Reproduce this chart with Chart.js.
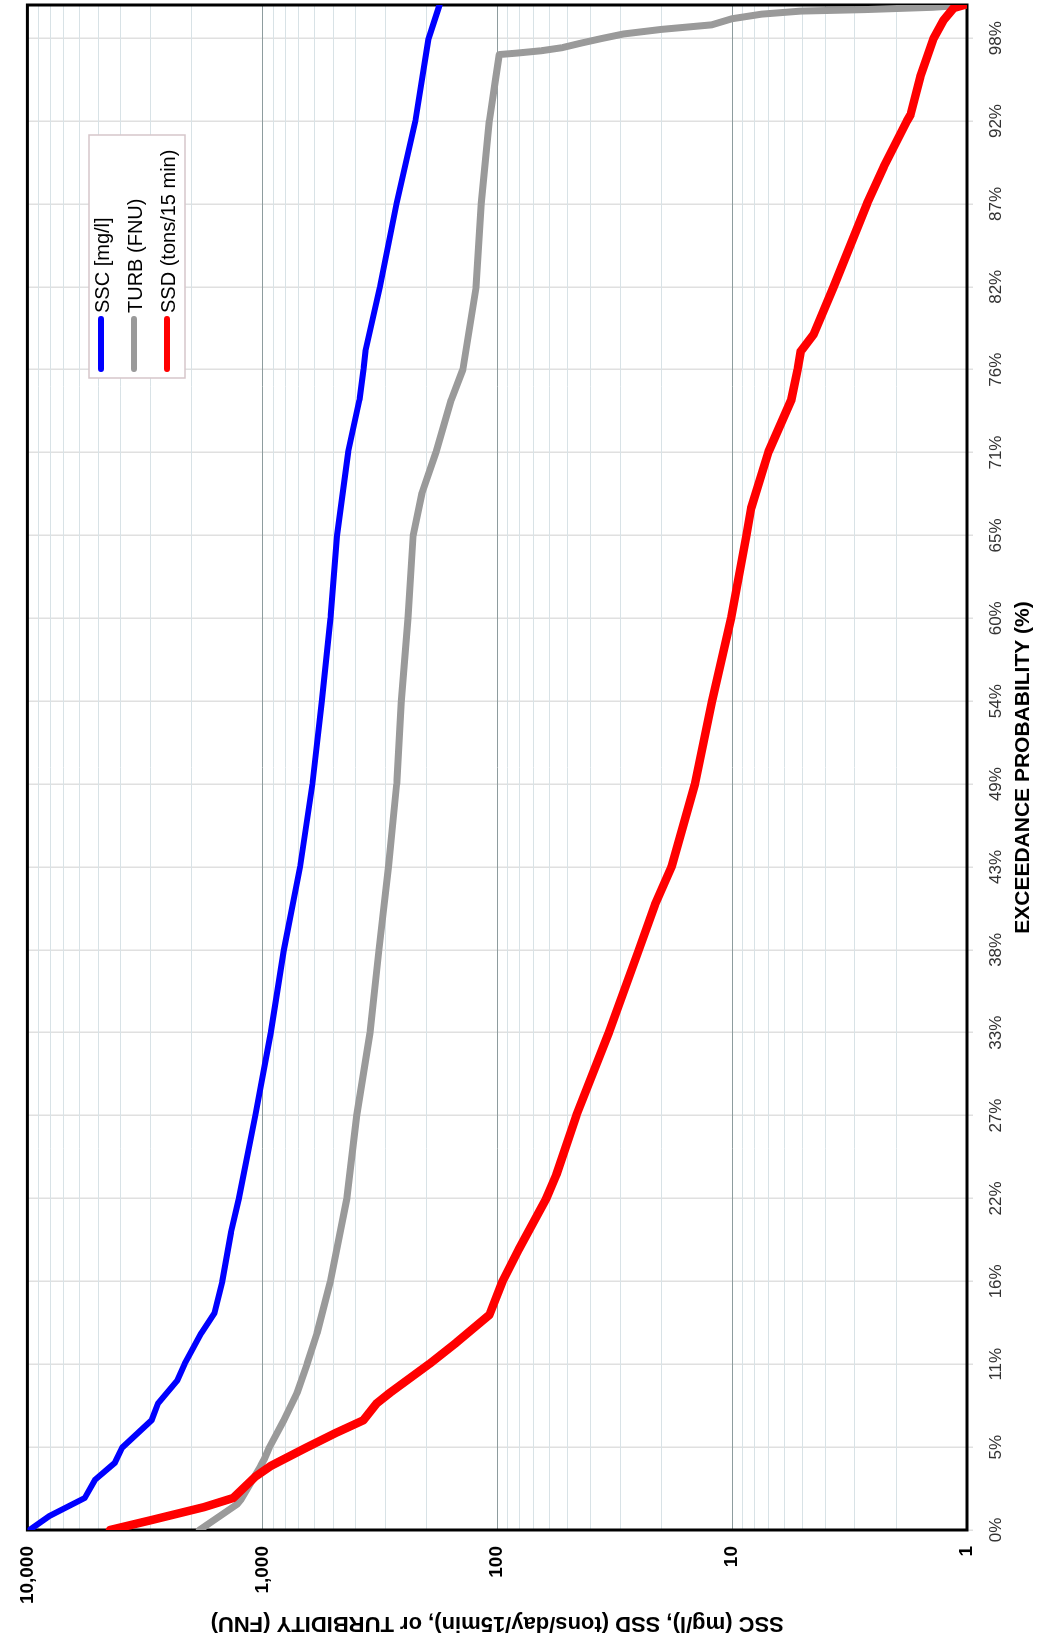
<!DOCTYPE html>
<html>
<head>
<meta charset="utf-8">
<script src="https://cdn.jsdelivr.net/npm/chart.js@4.4.0/dist/chart.umd.min.js"></script>
<style>
  html, body { margin: 0; padding: 0; background: #fff; overflow: hidden; }
  #page { position: relative; width: 1044px; height: 1648px; overflow: hidden; background: #fff; }
  /* the chart is laid out landscape, then turned a quarter turn counter-clockwise */
  #turned { position: absolute; left: 0; top: 0; width: 1648px; height: 1044px;
    transform-origin: 0 0; transform: translateY(1648px) rotate(-90deg); }
</style>
</head>
<body>
<div id="page">
  <div id="turned"><canvas id="durationChart" width="1648" height="1044"></canvas></div>
</div>
<script>
const FONT = "'Liberation Sans', Arial, sans-serif";

// exceedance probability (%) and value pairs
const sscPct = [0, 0.9, 2.1, 3.3, 4.4, 5.4, 7.2, 8.3, 9.8, 10.9, 12.9, 14.2, 16.3, 19.5, 21.7, 27.2, 32.6, 38.0, 43.5, 48.9, 54.3, 59.8, 65.2, 70.7, 74.1, 76.1, 77.3, 81.5, 87.0, 92.4, 97.8, 100];
const sscVal = [9800, 8100, 5700, 5150, 4250, 3950, 2960, 2780, 2300, 2140, 1820, 1600, 1480, 1360, 1260, 1070, 920, 810, 690, 612, 558, 513, 481, 431, 386, 371, 364, 316, 268, 223, 196, 176];

const turbPct = [0, 1.7, 2.0, 4.2, 4.6, 5.4, 7.2, 9.0, 10.9, 12.9, 16.3, 21.7, 27.2, 32.6, 38.0, 43.5, 48.9, 54.3, 59.8, 65.2, 68.0, 70.7, 74.1, 76.1, 81.5, 87.0, 92.4, 95.0, 96.75, 96.85, 97.0, 97.2, 97.5, 97.8, 98.1, 98.4, 98.7, 99.1, 99.4, 99.6, 99.7, 99.85, 100];
const turbVal = [1850, 1277, 1233, 1016, 984, 934, 809, 711, 644, 585, 513, 437, 396, 348, 319, 290, 268, 256, 240, 228, 209, 182, 157, 140, 123, 117, 108, 102, 98, 82, 65, 53, 44, 36, 29, 20, 12.2, 10, 7.5, 5.1, 2.7, 1.4, 1.0];

const ssdPct = [0, 0.66, 1.5, 2.1, 3.5, 4.2, 5.4, 6.4, 7.2, 8.3, 9.0, 10.9, 12.3, 14.1, 16.3, 18.4, 21.7, 23.3, 27.2, 32.6, 38.0, 41.0, 43.5, 48.9, 54.3, 59.8, 65.2, 67.0, 70.7, 74.1, 76.1, 77.3, 78.4, 81.5, 87.0, 89.4, 92.4, 92.8, 95.3, 97.8, 99.0, 99.8, 100];
const ssdVal = [4450, 2950, 1770, 1330, 1070, 921, 650, 481, 371, 326, 286, 194, 149, 108, 95, 81, 62, 56, 46, 33.5, 25, 21.3, 18.1, 14.4, 12.2, 10.1, 8.7, 8.3, 7.0, 5.6, 5.26, 5.1, 4.5, 3.7, 2.66, 2.26, 1.8, 1.74, 1.58, 1.39, 1.26, 1.14, 1.03];

const seriesLabels = ["SSC [mg/l]", "TURB (FNU)", "SSD (tons/15 min)"];
const xTickLabels = ["0%", "5%", "11%", "16%", "22%", "27%", "33%", "38%", "43%", "49%", "54%", "60%", "65%", "71%", "76%", "82%", "87%", "92%", "98%"];
const yDecades = [1, 10, 100, 1000, 10000];
const yTickLabels = ["1", "10", "100", "1,000", "10,000"];

const xStep = 100 / 18.4; // spacing of the probability ticks

const toPoints = (pct, val) => pct.map((p, i) => ({ x: p, y: val[i] }));

// black frame round the plot area
const plotFrame = {
  id: "plotFrame",
  beforeDatasetsDraw(chart) {
    const { ctx, chartArea: a } = chart;
    ctx.save();
    ctx.strokeStyle = "#000";
    ctx.lineWidth = 3;
    ctx.strokeRect(a.left, a.top, a.right - a.left, a.bottom - a.top);
    ctx.restore();
  }
};

// boxed legend that sits inside the plot
const boxLegend = {
  id: "boxLegend",
  afterDraw(chart) {
    const ctx = chart.ctx;
    const x0 = 1270, y0 = 89, w = 243, h = 96;
    ctx.save();
    ctx.fillStyle = "#fff";
    ctx.fillRect(x0, y0, w, h);
    ctx.strokeStyle = "#d6c6ca";
    ctx.lineWidth = 1.5;
    ctx.strokeRect(x0, y0, w, h);
    chart.data.datasets.forEach((ds, i) => {
      const y = 101 + i * 33;
      ctx.strokeStyle = ds.borderColor;
      ctx.lineWidth = 6;
      ctx.lineCap = "round";
      ctx.beginPath();
      ctx.moveTo(1279, y);
      ctx.lineTo(1329, y);
      ctx.stroke();
      ctx.fillStyle = "#000";
      ctx.font = "20px " + FONT;
      ctx.textBaseline = "middle";
      ctx.fillText(ds.label, 1335, y + 2);
    });
    ctx.restore();
  }
};

const ctx = document.getElementById("durationChart");

new Chart(ctx, {
  type: "line",
  data: {
    datasets: [
      {
        label: seriesLabels[0],
        data: toPoints(sscPct, sscVal),
        borderColor: "#0000ff",
        backgroundColor: "#0000ff",
        borderWidth: 6,
        order: 3
      },
      {
        label: seriesLabels[1],
        data: toPoints(turbPct, turbVal),
        borderColor: "#9a9a9a",
        backgroundColor: "#9a9a9a",
        borderWidth: 7,
        order: 2
      },
      {
        label: seriesLabels[2],
        data: toPoints(ssdPct, ssdVal),
        borderColor: "#ff0000",
        backgroundColor: "#ff0000",
        borderWidth: 8.5,
        order: 1
      }
    ]
  },
  options: {
    responsive: false,
    animation: false,
    events: [],
    layout: { padding: { top: 12, right: 5, left: 0, bottom: 0 } },
    elements: {
      point: { radius: 0 },
      line: { tension: 0, fill: false, borderJoinStyle: "round", borderCapStyle: "round" }
    },
    plugins: {
      legend: { display: false },
      tooltip: { enabled: false }
    },
    scales: {
      x: {
        type: "linear",
        min: 0,
        max: 100,
        afterBuildTicks: (scale) => {
          scale.ticks = xTickLabels.map((_, i) => ({ value: i * xStep }));
        },
        afterFit: (scale) => { scale.height = 77; },
        ticks: {
          autoSkip: false,
          maxRotation: 0,
          padding: 13,
          color: "#333",
          font: { family: FONT, size: 17 },
          callback: (v, i) => xTickLabels[i]
        },
        grid: { color: "#e0e0e0", lineWidth: 1.5, tickLength: 6 },
        border: { display: false },
        title: {
          display: true,
          text: "EXCEEDANCE PROBABILITY (%)",
          color: "#000",
          font: { family: FONT, size: 21, weight: "bold" },
          padding: { top: 4, bottom: 8 }
        }
      },
      y: {
        type: "logarithmic",
        min: 1,
        max: 10000,
        afterBuildTicks: (scale) => {
          const t = [];
          yDecades.forEach((d, i) => {
            if (i === yDecades.length - 1) {
              t.push({ value: d });
            } else {
              for (let m = 1; m < 10; m++) t.push({ value: d * m });
            }
          });
          scale.ticks = t;
        },
        afterFit: (scale) => { scale.width = 118; },
        ticks: {
          autoSkip: false,
          padding: 16,
          color: "#000",
          font: { family: FONT, size: 19, weight: "bold" },
          callback: (v) => {
            const i = yDecades.indexOf(v);
            return i >= 0 ? yTickLabels[i] : "";
          }
        },
        grid: {
          drawTicks: false,
          lineWidth: 1,
          color: (c) => (c.tick && yDecades.includes(c.tick.value) ? "#8e9c9e" : "#d8e2e6")
        },
        border: { display: false },
        title: {
          display: true,
          text: "SSC (mg/l), SSD (tons/day/15min), or TURBIDITY (FNU)",
          color: "#000",
          font: { family: FONT, size: 22, weight: "bold" },
          padding: { top: 12, bottom: 5 }
        }
      }
    }
  },
  plugins: [plotFrame, boxLegend]
});
</script>
</body>
</html>
